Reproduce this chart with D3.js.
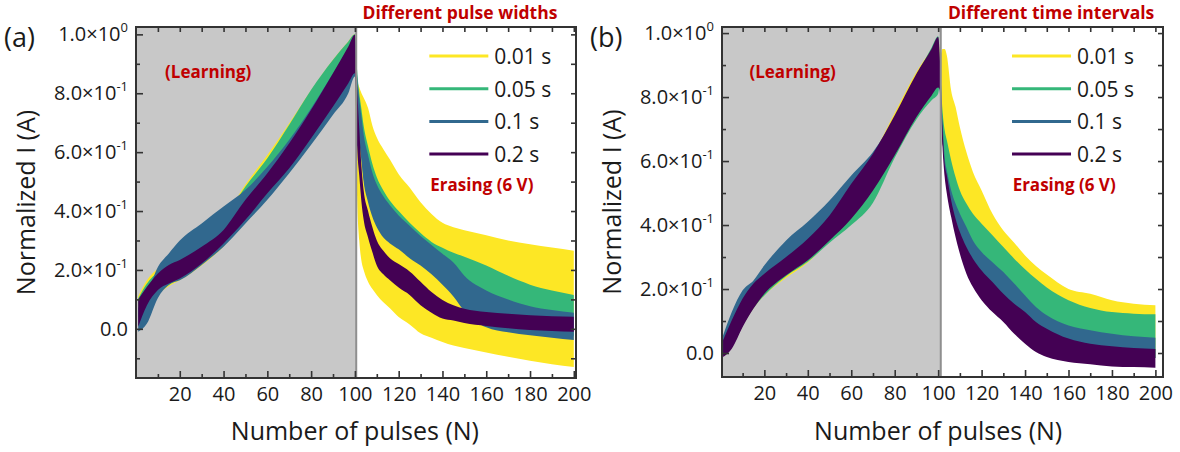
<!DOCTYPE html>
<html>
<head>
<meta charset="utf-8">
<script src="https://cdn.jsdelivr.net/npm/d3@7"></script>
<style>
  body { margin: 0; background: #fff; }
  svg { font-family: "Open Sans", sans-serif; }
  .tk path { display: none; }
  .tk line { stroke: #333; stroke-width: 1.6; }
  .tk text { font-size: 20px; fill: #1a1a1a; font-family: "Open Sans", sans-serif; }
</style>
</head>
<body>
<svg width="1180" height="452"></svg>
<script>
// pulse numbers where the band edges were read
const pulses = [1,5,10,15,20,30,40,50,60,70,80,90,97,100,
  101,102,103,104,106,108,110,113,116,120,125,130,135,140,145,150,160,170,180,190,200];

const seriesNames = ["0.01 s", "0.05 s", "0.1 s", "0.2 s"];
const seriesColors = ["#fde725", "#35b779", "#31688e", "#440154"];

const xMajor = [20,40,60,80,100,120,140,160,180,200];
const xMinor = [10,30,50,70,90,110,130,150,170,190];
const yMajor = [0,0.2,0.4,0.6,0.8,1.0];
const yMinor = [-0.1,0.1,0.3,0.5,0.7,0.9];
const yLabels = ["0.0", "2.0×10|-1", "4.0×10|-1", "6.0×10|-1", "8.0×10|-1", "1.0×10|0"];

// (a) different pulse widths : upper / lower envelopes
const aYellowHi = [0.11,0.165,0.205,0.233,0.256,0.30,0.375,0.49,0.59,0.698,0.81,0.914,0.976,1.0,
  0.85,0.82,0.80,0.785,0.75,0.69,0.65,0.61,0.575,0.525,0.48,0.43,0.39,0.36,0.345,0.335,0.318,0.30,0.287,0.276,0.265];
const aYellowLo = [0.03,0.06,0.115,0.145,0.165,0.215,0.28,0.37,0.46,0.555,0.665,0.78,0.85,0.88,
  0.45,0.30,0.23,0.20,0.16,0.135,0.115,0.09,0.07,0.04,0.015,-0.015,-0.03,-0.045,-0.057,-0.065,-0.08,-0.095,-0.108,-0.12,-0.13];
const aGreenHi = [0.103,0.154,0.194,0.228,0.25,0.30,0.37,0.483,0.579,0.693,0.812,0.914,0.976,1.0,
  0.88,0.80,0.745,0.69,0.62,0.56,0.515,0.47,0.435,0.40,0.36,0.325,0.295,0.275,0.258,0.245,0.215,0.18,0.15,0.13,0.115];
const aGreenLo = [0.04,0.063,0.12,0.149,0.171,0.22,0.285,0.375,0.466,0.562,0.676,0.795,0.857,0.885,
  0.75,0.65,0.58,0.51,0.44,0.39,0.355,0.32,0.30,0.28,0.25,0.225,0.195,0.16,0.12,0.07,0.02,0.0,-0.01,-0.02,-0.025];
const aBlueHi = [0.07,0.12,0.21,0.256,0.30,0.358,0.415,0.472,0.55,0.642,0.749,0.868,0.953,0.993,
  0.86,0.78,0.72,0.66,0.59,0.53,0.49,0.45,0.42,0.385,0.35,0.315,0.285,0.255,0.225,0.18,0.13,0.10,0.077,0.064,0.055];
const aBlueLo = [-0.01,0.018,0.105,0.15,0.165,0.217,0.279,0.358,0.438,0.528,0.625,0.727,0.80,0.857,
  0.74,0.64,0.57,0.50,0.43,0.38,0.345,0.31,0.29,0.27,0.24,0.215,0.185,0.15,0.11,0.06,0.005,-0.012,-0.022,-0.03,-0.038];
const aPurpleHi = [0.10,0.143,0.188,0.217,0.234,0.279,0.336,0.438,0.528,0.63,0.744,0.868,0.959,0.999,
  0.82,0.68,0.55,0.47,0.40,0.345,0.30,0.265,0.24,0.22,0.195,0.16,0.125,0.098,0.08,0.068,0.057,0.051,0.046,0.043,0.041];
const aPurpleLo = [0.007,0.08,0.132,0.154,0.171,0.222,0.29,0.37,0.46,0.545,0.647,0.755,0.834,0.868,
  0.62,0.52,0.43,0.37,0.31,0.26,0.215,0.185,0.165,0.14,0.115,0.08,0.055,0.035,0.028,0.02,0.01,0.002,-0.004,-0.007,-0.01];

// (b) different time intervals : upper / lower envelopes
const bYellowHi = [0.035,0.097,0.165,0.212,0.243,0.295,0.352,0.425,0.524,0.62,0.75,0.878,0.951,0.985,
  0.93,0.95,0.95,0.93,0.82,0.77,0.706,0.628,0.566,0.508,0.435,0.383,0.345,0.305,0.272,0.245,0.20,0.185,0.165,0.154,0.149];
const bYellowLo = [-0.005,0.02,0.085,0.14,0.18,0.235,0.283,0.35,0.415,0.505,0.615,0.735,0.805,0.83,
  0.85,0.674,0.58,0.528,0.455,0.39,0.34,0.278,0.236,0.195,0.158,0.127,0.09,0.059,0.033,0.018,0.002,-0.005,-0.012,-0.014,-0.016];
const bGreenHi = [0.035,0.097,0.165,0.212,0.243,0.295,0.352,0.425,0.524,0.618,0.738,0.868,0.955,0.99,
  0.88,0.758,0.696,0.665,0.602,0.55,0.508,0.467,0.435,0.404,0.368,0.331,0.295,0.262,0.232,0.205,0.165,0.141,0.128,0.123,0.121];
const bGreenLo = [-0.005,0.02,0.085,0.14,0.18,0.24,0.285,0.345,0.40,0.47,0.61,0.73,0.79,0.81,
  0.85,0.674,0.58,0.528,0.455,0.39,0.34,0.278,0.236,0.195,0.158,0.127,0.09,0.059,0.033,0.018,0.002,-0.005,-0.012,-0.014,-0.016];
const bBlueHi = [0.055,0.128,0.196,0.227,0.274,0.352,0.41,0.477,0.555,0.628,0.7375,0.868,0.946,0.983,
  0.85,0.727,0.6125,0.571,0.508,0.467,0.435,0.394,0.352,0.316,0.284,0.253,0.217,0.18,0.144,0.118,0.086,0.071,0.06,0.052,0.048];
const bBlueLo = [-0.008,0.018,0.086,0.144,0.19,0.248,0.295,0.357,0.425,0.513,0.623,0.742,0.81,0.835,
  0.80,0.674,0.58,0.528,0.455,0.39,0.34,0.278,0.236,0.195,0.158,0.127,0.09,0.059,0.033,0.018,0.002,-0.005,-0.012,-0.014,-0.016];
const bPurpleHi = [0.04,0.102,0.17,0.217,0.248,0.30,0.357,0.43,0.529,0.623,0.743,0.873,0.951,0.988,
  0.90,0.706,0.592,0.555,0.477,0.42,0.378,0.331,0.295,0.258,0.222,0.185,0.154,0.128,0.097,0.076,0.045,0.029,0.021,0.016,0.0125];
const bPurpleLo = [-0.0125,0.0135,0.081,0.139,0.185,0.243,0.29,0.352,0.42,0.508,0.618,0.7375,0.805,0.83,
  0.82,0.644,0.55,0.498,0.425,0.3625,0.31,0.248,0.206,0.165,0.128,0.097,0.06,0.029,0.003,-0.0125,-0.028,-0.035,-0.042,-0.044,-0.046];

const panels = [
  { tag: "(a)", title: "Different pulse widths", x0: 136, x1: 576, y0: 27, y1: 378,
    xdom: [0, 201], ydom: [-0.167, 1.025], split: 100.6, titleAt: 148,
    hi: [aYellowHi, aGreenHi, aBlueHi, aPurpleHi], lo: [aYellowLo, aGreenLo, aBlueLo, aPurpleLo] },
  { tag: "(b)", title: "Different time intervals", x0: 722, x1: 1163, y0: 27, y1: 377,
    xdom: [0.5, 203.5], ydom: [-0.075, 1.019], split: 101.2, titleAt: 152,
    hi: [bYellowHi, bGreenHi, bBlueHi, bPurpleHi], lo: [bYellowLo, bGreenLo, bBlueLo, bPurpleLo] }
];

const svg = d3.select("svg");
const red = "#c00000";

panels.forEach(function(p, pi) {
  var x = d3.scaleLinear().domain(p.xdom).range([p.x0, p.x1]);
  var y = d3.scaleLinear().domain(p.ydom).range([p.y1, p.y0]);
  var w = p.x1 - p.x0, h = p.y1 - p.y0;

  svg.append("clipPath").attr("id", "clip" + pi)
    .append("rect").attr("x", p.x0).attr("y", p.y0).attr("width", w).attr("height", h);

  // learning region
  svg.append("rect").attr("x", p.x0).attr("y", p.y0)
    .attr("width", x(p.split) - p.x0).attr("height", h).attr("fill", "#c8c8c8");

  var g = svg.append("g").attr("clip-path", "url(#clip" + pi + ")");
  var area = d3.area()
    .x(function(d) { return x(d.n); })
    .y0(function(d) { return y(d.lo); })
    .y1(function(d) { return y(d.hi); })
    .curve(d3.curveMonotoneX);

  seriesNames.forEach(function(name, si) {
    var rows = pulses.map(function(n, i) { return { n: n, hi: p.hi[si][i], lo: p.lo[si][i] }; });
    g.append("path").datum(rows).attr("d", area).attr("fill", seriesColors[si]);
  });

  svg.append("line").attr("x1", x(p.split)).attr("x2", x(p.split))
    .attr("y1", p.y0).attr("y2", p.y1).attr("stroke", "#8f8f8f").attr("stroke-width", 2);

  // ticks, all pointing inward; skip values outside the axis range
  function inside(scale) {
    var d = scale.domain();
    return function(v) { return v >= d[0] && v <= d[1]; };
  }
  function axis(gen, scale, vals, size, tx, ty, labels) {
    var a = gen(scale).tickValues(vals.filter(inside(scale))).tickSize(-size).tickPadding(9);
    if (!labels) a.tickFormat("");
    svg.append("g").attr("class", "tk").attr("transform", "translate(" + tx + "," + ty + ")").call(a);
  }
  axis(d3.axisBottom, x, xMajor, 7, 0, p.y1, true);
  axis(d3.axisBottom, x, xMinor, 4, 0, p.y1, false);
  axis(d3.axisTop, x, xMajor, 5, 0, p.y0, false);
  axis(d3.axisTop, x, xMinor, 5, 0, p.y0, false);
  axis(d3.axisLeft, y, yMajor, 7, p.x0, 0, false);
  axis(d3.axisLeft, y, yMinor, 4, p.x0, 0, false);
  axis(d3.axisRight, y, yMajor, 5, p.x1, 0, false);
  axis(d3.axisRight, y, yMinor, 5, p.x1, 0, false);

  svg.append("rect").attr("x", p.x0).attr("y", p.y0).attr("width", w).attr("height", h)
    .attr("fill", "none").attr("stroke", "#333").attr("stroke-width", 2);

  // y tick labels with exponents
  yMajor.forEach(function(v, i) {
    var parts = yLabels[i].split("|");
    var t = svg.append("text").attr("x", p.x0 - 8).attr("y", y(v) + 7)
      .attr("text-anchor", "end").attr("font-size", 20).attr("fill", "#1a1a1a").text(parts[0]);
    if (parts.length > 1) {
      t.append("tspan").attr("dy", -9).attr("font-size", 13).text(parts[1]);
    }
  });

  // titles
  svg.append("text").attr("x", p.x0 - 132).attr("y", 47).attr("font-size", 27).attr("fill", "#1a1a1a").text(p.tag);
  svg.append("text").attr("transform", "translate(" + (p.x0 - 101) + "," + ((p.y0 + p.y1) / 2) + ") rotate(-90)")
    .attr("text-anchor", "middle").attr("font-size", 25).attr("fill", "#1a1a1a").text("Normalized I (A)");
  svg.append("text").attr("x", x(100)).attr("y", 440).attr("text-anchor", "middle")
    .attr("font-size", 25).attr("fill", "#1a1a1a").text("Number of pulses (N)");
  svg.append("text").attr("x", x(p.titleAt)).attr("y", 19).attr("text-anchor", "middle")
    .attr("font-size", 17.5).attr("font-weight", "bold").attr("fill", red).text(p.title);
  svg.append("text").attr("x", x(33)).attr("y", 78).attr("text-anchor", "middle")
    .attr("font-size", 17).attr("font-weight", "bold").attr("fill", red).text("(Learning)");
  svg.append("text").attr("x", x(158)).attr("y", 191).attr("text-anchor", "middle")
    .attr("font-size", 17).attr("font-weight", "bold").attr("fill", red).text("Erasing (6 V)");

  // legend
  var lx = x(134);
  seriesNames.forEach(function(name, si) {
    var ly = 56 + si * 32.7;
    svg.append("line").attr("x1", lx).attr("x2", lx + 59).attr("y1", ly).attr("y2", ly)
      .attr("stroke", seriesColors[si]).attr("stroke-width", 3);
    svg.append("text").attr("x", lx + 65).attr("y", ly + 8).attr("font-size", 21)
      .attr("fill", "#1a1a1a").text(name);
  });
});
</script>
</body>
</html>
